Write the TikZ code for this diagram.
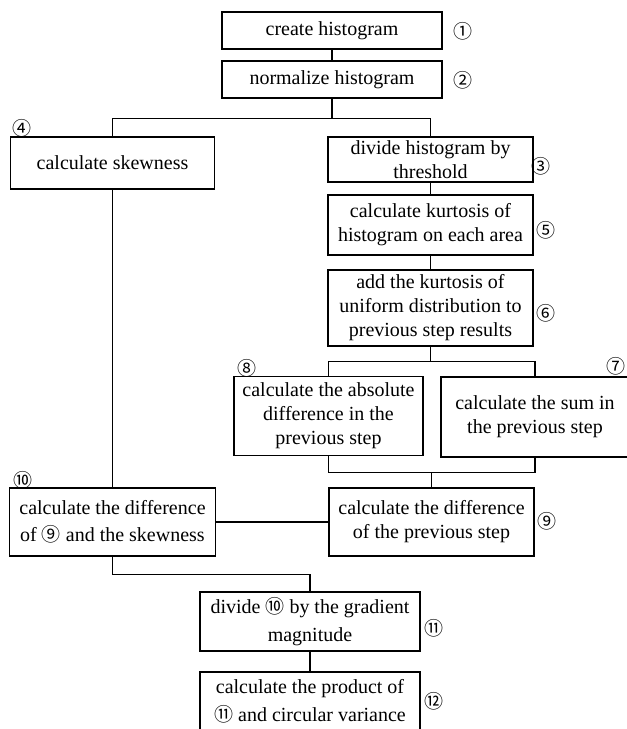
\documentclass[tikz,border=0pt]{standalone}
\usepackage{fontspec}
\setmainfont{Liberation Serif}
\newfontfamily\circfont{Noto Sans CJK SC}
\usetikzlibrary{calc,positioning}

\newcommand{\cnum}[1]{{\circfont\fontsize{9.5}{10}\selectfont #1}}

\begin{document}
\begin{tikzpicture}[x=0.5pt,y=-0.5pt,line width=0.25mm,
   stepbox/.style={draw,align=center,inner sep=1pt,font=\fontsize{10}{12}\selectfont},
   numlab/.style={draw=none,inner sep=0pt}]

   \clip (0,0) rectangle (627,729);

   % boxes
   \node[stepbox,minimum width=110pt,minimum height=18.5pt] (b1) at (332,30.5) {create histogram};
   \node[stepbox,minimum width=110pt,minimum height=18.5pt] (b2) at (332,79.5) {normalize histogram};
   \node[stepbox,minimum width=102pt,minimum height=26pt] (b4) at (112.5,163) {calculate skewness};
   \node[stepbox,minimum width=102.5pt,minimum height=22.5pt] (b3) at (430.5,159.5) {divide histogram by\\threshold};
   \node[stepbox,minimum width=102.5pt,minimum height=30pt] (b5) at (430.5,225) {calculate kurtosis of\\histogram on each area};
   \node[stepbox,minimum width=102.5pt,minimum height=38pt] (b6) at (430.5,308) {add the kurtosis of\\uniform distribution to\\previous step results};
   \node[stepbox,minimum width=94.5pt,minimum height=39.5pt] (b8) at (328.5,416) {calculate the absolute\\difference in the\\previous step};
   \node[stepbox,minimum width=94pt,minimum height=40pt] (b7) at (535,417) {calculate the sum in\\the previous step};
   \node[stepbox,minimum width=103pt,minimum height=34pt] (b10) at (112.5,522) {calculate the difference\\[1.5pt]of \cnum{⑨} and the skewness};
   \node[stepbox,minimum width=102.5pt,minimum height=34pt] (b9) at (431.5,522) {calculate the difference\\of the previous step};
   \node[stepbox,minimum width=110pt,minimum height=29.5pt] (b11) at (310,621.5) {divide \cnum{⑩} by the gradient\\[2pt]magnitude};
   \node[stepbox,minimum width=110pt,minimum height=29.5pt] (b12) at (310,701.5) {calculate the product of\\[2pt]\cnum{⑪} and circular variance};

   % step numbers
   \node[numlab] (l1) at (463,31) {\cnum{①}};
   \node[numlab] (l2) at (463,80) {\cnum{②}};
   \node[numlab] (l3) at (541,166) {\cnum{③}};
   \node[numlab] (l4) at (22,128) {\cnum{④}};
   \node[numlab] (l5) at (546,230) {\cnum{⑤}};
   \node[numlab] (l6) at (546,313) {\cnum{⑥}};
   \node[numlab] (l7) at (616,366) {\cnum{⑦}};
   \node[numlab] (l8) at (247,368) {\cnum{⑧}};
   \node[numlab] (l9) at (547,521) {\cnum{⑨}};
   \node[numlab] (l10) at (23,480) {\cnum{⑩}};
   \node[numlab] (l11) at (434,628) {\cnum{⑪}};
   \node[numlab] (l12) at (434,701) {\cnum{⑫}};

   % connectors
   \draw (b1) -- (b2);
   \draw (b2.south) -- ++(0,20) coordinate (s1);
   \draw (b4.north) |- (s1) -| (b3.north);
   \draw (b3) -- (b5);
   \draw (b5) -- (b6);
   \draw (b6.south) -- ++(0,15) coordinate (s2);
   \draw (b8.north) |- (s2) -| (b7.north);
   \draw (b8.south) -- ++(0,16) coordinate (m1) -| (b7.south);
   \draw (b9.north) |- (m1);
   \draw (b4) -- (b10);
   \draw (b10) -- (b9);
   \draw (b10.south) -- ++(0,18) -| (b11.north);
   \draw (b11) -- (b12);

\end{tikzpicture}
\end{document}
